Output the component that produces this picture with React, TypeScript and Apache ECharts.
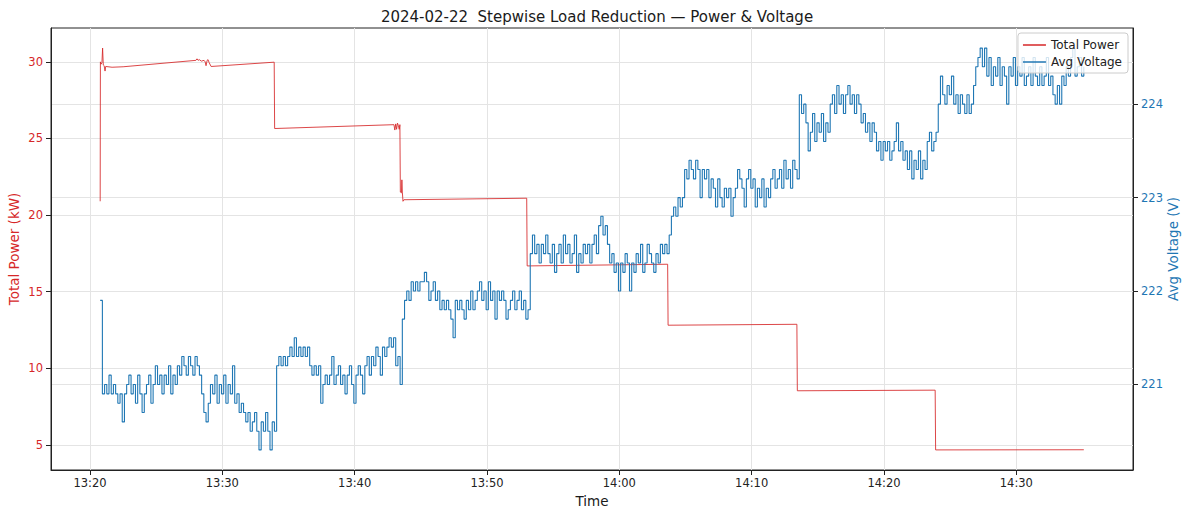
import React, { useEffect, useRef } from "react";
import * as echarts from "echarts";

const TITLE = "2024-02-22  Stepwise Load Reduction — Power & Voltage";
const X_TICKS = ["13:20", "13:30", "13:40", "13:50", "14:00", "14:10", "14:20", "14:30"];
const POWER_TICKS = [5, 10, 15, 20, 25, 30];
const VOLT_TICKS = [221, 222, 223, 224];

// Total power (kW): [time, value]
const powerPoints: [string, number][] = [
  ["13:20:46", 20.9], ["13:20:47", 30.0], ["13:20:50", 29.85], ["13:20:54", 29.95],
  ["13:20:57", 30.9], ["13:21:00", 29.8], ["13:21:04", 29.75], ["13:21:08", 29.4],
  ["13:21:11", 29.7], ["13:21:40", 29.65], ["13:22:30", 29.68], ["13:28:00", 30.1],
  ["13:28:05", 30.2], ["13:28:10", 30.1], ["13:28:15", 30.15], ["13:28:25", 30.05],
  ["13:28:37", 30.1], ["13:28:42", 30.0], ["13:28:46", 29.75], ["13:28:51", 30.1],
  ["13:28:55", 30.15], ["13:29:00", 29.95], ["13:29:09", 29.7], ["13:33:55", 29.98],
  ["13:33:57", 25.65], ["13:42:58", 25.9], ["13:43:02", 25.55], ["13:43:06", 25.95],
  ["13:43:10", 25.6], ["13:43:14", 26.0], ["13:43:18", 25.85], ["13:43:22", 25.6],
  ["13:43:25", 25.9], ["13:43:27", 21.5], ["13:43:32", 21.45], ["13:43:34", 22.3],
  ["13:43:36", 21.5], ["13:43:39", 20.9], ["13:43:43", 21.0], ["13:53:00", 21.1],
  ["13:53:02", 16.68], ["14:03:39", 16.79], ["14:03:41", 12.81], ["14:13:25", 12.87],
  ["14:13:27", 8.53], ["14:23:52", 8.57], ["14:23:54", 4.67], ["14:35:06", 4.68],
];

// Average voltage (V), one reading every 10 s from VOLT_START
const VOLT_START = "13:20:46";
const VOLT_STEP_S = 10;
const voltA = [
  221.9, 220.9, 221.0, 220.9, 221.1, 220.9, 221.0, 220.9, 220.8, 220.9,
  220.6, 220.9, 221.0, 221.1, 220.9, 221.0, 220.8, 221.1, 220.9, 220.7,
  220.9, 221.0, 221.1, 220.8, 221.0, 221.2, 221.0, 221.1, 220.9, 221.1,
  221.0, 221.2, 220.9, 221.1, 221.0, 221.2, 221.1, 221.3, 221.2, 221.1,
  221.3, 221.2, 221.1, 221.3, 221.2, 221.1, 220.9, 220.7, 220.6, 220.8,
  221.0, 220.9, 221.1, 220.8, 221.0, 220.9, 221.1, 220.8, 221.0, 220.9,
  221.2, 220.8, 220.9, 220.7, 220.8, 220.7, 220.6, 220.7, 220.5, 220.6,
  220.7, 220.5, 220.3, 220.6, 220.5, 220.7, 220.5, 220.3, 220.6, 220.5,
];
const voltB = [
  221.2, 221.3, 221.2, 221.3, 221.2, 221.3, 221.4, 221.3, 221.5, 221.3,
  221.4, 221.3, 221.4, 221.3, 221.4, 221.2, 221.1, 221.2, 221.1, 221.2,
  220.8, 221.0, 221.1, 221.0, 221.1, 221.3, 221.0, 221.1, 221.2, 221.0,
  221.1, 220.9, 221.1, 221.2, 221.0, 220.8, 221.1, 221.2, 221.1, 220.9,
  221.2, 221.3, 221.1, 221.3, 221.2, 221.4, 221.3, 221.1, 221.4, 221.3,
  221.4, 221.5, 221.4, 221.5, 221.2, 221.3, 221.0,
];
const voltC = [
  221.7, 221.9, 222.0, 221.9, 222.1, 222.0, 222.1, 222.0, 222.1, 222.1,
  222.2, 222.1, 221.9, 222.0, 222.1, 221.9, 222.0, 221.8, 221.9, 221.8,
  221.9, 221.8, 221.7, 221.5, 221.9, 221.8, 221.9, 221.8, 221.7, 221.9,
  221.8, 222.0, 221.8, 221.9, 222.0, 222.1, 221.9, 222.0, 221.8, 222.1,
  221.9, 222.0, 221.7, 222.0, 221.9, 222.0, 221.9, 221.7, 221.8, 221.9,
  222.0, 221.8, 221.9, 222.0, 221.8, 221.9, 221.7, 221.8,
];
const voltD = [
  222.4, 222.6, 222.4, 222.5, 222.3, 222.5, 222.4, 222.6, 222.4, 222.3,
  222.5, 222.2, 222.4, 222.5, 222.3, 222.6, 222.4, 222.5, 222.3, 222.4,
  222.6, 222.2, 222.4, 222.3, 222.5, 222.4, 222.5, 222.3, 222.5, 222.6,
  222.4, 222.7, 222.8, 222.6, 222.7, 222.5, 222.3, 222.4, 222.2, 222.3,
  222.0, 222.3, 222.2, 222.4, 222.3, 222.0, 222.3, 222.2, 222.4, 222.3,
  222.5, 222.2, 222.3, 222.5, 222.4, 222.3, 222.2, 222.4, 222.3, 222.5,
  222.4, 222.5, 222.4, 222.6,
];
const voltE = [
  222.8, 222.9, 222.8, 223.0, 222.9, 223.0, 223.3, 223.2, 223.4, 223.3,
  223.2, 223.4, 223.3, 223.0, 223.3, 223.2, 223.3, 223.0, 223.2, 223.1,
  222.9, 223.2, 223.0, 222.9, 223.1, 223.0, 223.1, 222.8, 223.0, 223.1,
  223.3, 223.2, 223.1, 222.9, 223.2, 223.3, 223.1, 223.2, 222.9, 223.1,
  223.0, 223.2, 222.9, 223.1, 223.0, 223.2, 223.3, 223.1, 223.2, 223.3,
  223.1, 223.4, 223.2, 223.3, 223.1, 223.4, 223.3, 223.2,
];
const voltF = [
  224.1, 223.9, 224.0, 223.8, 223.5, 223.7, 223.9, 223.6, 223.8, 223.7,
  223.9, 223.6, 223.8, 223.7, 224.0, 224.1, 223.9, 224.2, 224.0, 224.1,
  223.9, 224.1, 224.2, 224.0, 224.1, 223.9, 224.1, 224.0, 223.8, 223.9,
  223.7, 223.8, 223.6, 223.8, 223.7, 223.5, 223.6, 223.4, 223.6, 223.5,
  223.6, 223.4, 223.5, 223.6, 223.8, 223.5, 223.6, 223.4, 223.5, 223.3,
  223.5, 223.2, 223.4, 223.3, 223.5, 223.2, 223.4, 223.3, 223.6, 223.7,
  223.5, 223.6, 223.7,
];
const voltG = [
  224.0, 224.3, 224.1, 224.0, 224.2, 224.1, 224.3, 224.0, 224.1, 223.9,
  224.1, 224.0, 223.9, 224.1, 223.9, 224.0, 224.2, 224.4, 224.5, 224.6,
  224.4, 224.6, 224.3, 224.5, 224.2, 224.4, 224.3, 224.5, 224.2, 224.4,
  224.3, 224.0, 224.4, 224.3, 224.5, 224.2, 224.4, 224.3, 224.5, 224.2,
  224.3, 224.4, 224.2, 224.5, 224.3, 224.2, 224.4, 224.2, 224.3, 224.5,
  224.2, 224.3, 224.1, 224.0, 224.2, 224.0, 224.3, 224.2, 224.4, 224.3,
  224.5, 224.6, 224.3, 224.4, 224.5, 224.3, 224.4,
];

const RED = "#d62728";
const BLUE = "#1f77b4";
const FONT = "DejaVu Sans";

function toSec(t: string): number {
  const p = t.split(":").map(Number);
  return p[0] * 3600 + p[1] * 60 + (p[2] || 0);
}
function fmtHM(s: number): string {
  const h = Math.floor(s / 3600);
  const m = Math.round((s - h * 3600) / 60);
  return `${h}:${String(m).padStart(2, "0")}`;
}
function padExtent(vals: number[]): [number, number] {
  const lo = Math.min(...vals);
  const hi = Math.max(...vals);
  const r = hi - lo;
  return [lo - 0.05 * r, hi + 0.05 * r];
}

export default function App() {
  const ref = useRef<HTMLDivElement>(null);

  useEffect(() => {
    if (!ref.current) return;
    const chart = echarts.init(ref.current, undefined, { renderer: "svg" });

    const powerData = powerPoints.map(([t, v]) => [toSec(t), v]);
    const volts = [...voltA, ...voltB, ...voltC, ...voltD, ...voltE, ...voltF, ...voltG];
    const v0 = toSec(VOLT_START);
    const voltData = volts.map((v, i) => [v0 + i * VOLT_STEP_S, v]);

    const allT = [...powerData.map((d) => d[0]), ...voltData.map((d) => d[0])];
    const [xMin, xMax] = padExtent(allT);
    const [pMin, pMax] = padExtent(powerData.map((d) => d[1]));
    const [vMin, vMax] = padExtent(volts);
    const xTickVals = X_TICKS.map(toSec);

    const gridLine = { show: true, lineStyle: { color: "#e4e4e4", width: 1 } };

    chart.setOption({
      animation: false,
      backgroundColor: "#ffffff",
      textStyle: { fontFamily: FONT },
      title: {
        text: TITLE,
        left: 592,
        textAlign: "center",
        top: 4,
        textStyle: { fontFamily: FONT, fontSize: 15, fontWeight: "normal", color: "#1a1a1a" },
      },
      legend: {
        data: ["Total Power", "Avg Voltage"],
        orient: "vertical",
        right: 62,
        top: 33,
        icon: "rect",
        itemWidth: 23,
        itemHeight: 1.5,
        itemGap: 5,
        padding: [6, 6, 5, 5],
        backgroundColor: "rgba(255,255,255,0.8)",
        borderColor: "#cccccc",
        borderWidth: 1,
        borderRadius: 3,
        textStyle: { fontFamily: FONT, fontSize: 12, color: "#222" },
      },
      grid: {
        left: 51,
        right: 57,
        top: 28,
        bottom: 45,
        containLabel: false,
        outerBoundsMode: "none",
        show: true,
        borderColor: "#222",
        borderWidth: 1,
        backgroundColor: "transparent",
      },
      xAxis: {
        type: "value",
        min: xMin,
        max: xMax,
        name: "Time",
        nameLocation: "middle",
        nameGap: 24,
        nameMoveOverlap: false,
        nameTextStyle: { fontFamily: FONT, fontSize: 13.5, color: "#1a1a1a" },
        axisLine: { show: true, lineStyle: { color: "#222", width: 1 } },
        axisTick: { show: true, length: 5, customValues: xTickVals, lineStyle: { color: "#222" } },
        axisLabel: {
          customValues: xTickVals,
          margin: 7,
          fontFamily: FONT,
          fontSize: 11.5,
          color: "#222",
          formatter: (v: number) => fmtHM(v),
        },
        splitLine: gridLine,
      },
      yAxis: [
        {
          type: "value",
          position: "left",
          min: pMin,
          max: pMax,
          name: "Total Power (kW)",
          nameLocation: "middle",
          nameGap: 30,
          nameMoveOverlap: false,
          nameTextStyle: { fontFamily: FONT, fontSize: 13.5, color: RED },
          axisLine: { show: true, lineStyle: { color: "#222", width: 1 } },
          axisTick: { show: true, length: 5, customValues: POWER_TICKS, lineStyle: { color: "#222" } },
          axisLabel: { customValues: POWER_TICKS, margin: 8, fontFamily: FONT, fontSize: 11.5, color: RED },
          splitLine: gridLine,
        },
        {
          type: "value",
          position: "right",
          min: vMin,
          max: vMax,
          name: "Avg Voltage (V)",
          nameLocation: "middle",
          nameGap: 33,
          nameMoveOverlap: false,
          nameTextStyle: { fontFamily: FONT, fontSize: 13.5, color: BLUE },
          axisLine: { show: true, lineStyle: { color: "#222", width: 1 } },
          axisTick: { show: true, length: 5, customValues: VOLT_TICKS, lineStyle: { color: "#222" } },
          axisLabel: { customValues: VOLT_TICKS, margin: 8, fontFamily: FONT, fontSize: 11.5, color: BLUE },
          splitLine: gridLine,
        },
      ],
      series: [
        {
          name: "Total Power",
          type: "line",
          yAxisIndex: 0,
          data: powerData,
          showSymbol: false,
          symbol: "none",
          lineStyle: { color: RED, width: 1, opacity: 0.85 },
          itemStyle: { color: RED },
          z: 2,
        },
        {
          name: "Avg Voltage",
          type: "line",
          yAxisIndex: 1,
          data: voltData,
          step: "end",
          showSymbol: false,
          symbol: "none",
          lineStyle: { color: BLUE, width: 1.1, opacity: 1 },
          itemStyle: { color: BLUE },
          z: 3,
        },
      ],
    });

    return () => chart.dispose();
  }, []);

  return (
    <div
      ref={ref}
      style={{ position: "absolute", left: 0, top: 0, width: 1190, height: 515, background: "#fff" }}
    />
  );
}
